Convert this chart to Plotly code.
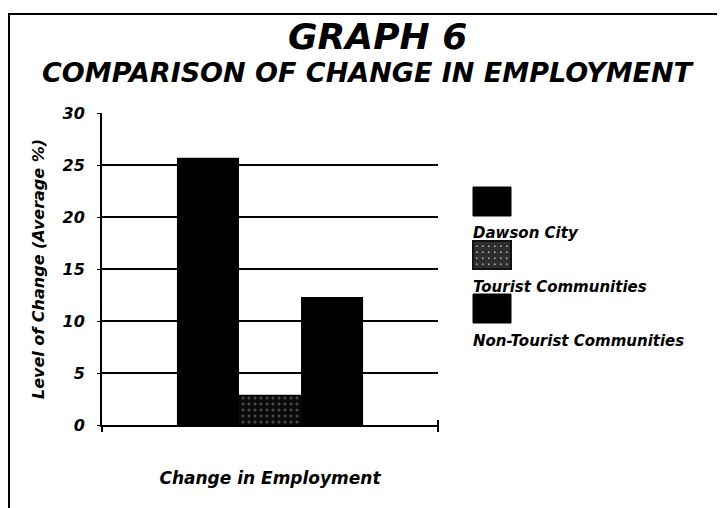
import plotly.graph_objects as go

# ---- data ----
category = ["Change in Employment"]
series_names = ["Dawson City", "Tourist Communities", "Non-Tourist Communities"]
series_values = [25.7, 2.9, 12.3]
y_ticks = [0, 5, 10, 15, 20, 25, 30]
title_main = "GRAPH 6"
title_sub = "COMPARISON OF CHANGE IN EMPLOYMENT"
y_title = "Level of Change (Average %)"

FONT = "DejaVu Sans"
OFF = 8  # page body margin
W, H = 725, 508
L, R, T, B = 102 - OFF, 438 - OFF, 113 - OFF, 425 - OFF  # plot area in figure pixels


def px(x):
    return (x - OFF - L) / (R - L)


def py(y):
    return (B - (y - OFF)) / (B - T)


fig = go.Figure()

styles = [
    dict(color="#000000"),
    dict(color="#0a0a0a", pattern=dict(shape=".", fgcolor="#8a8a8a", bgcolor="#0a0a0a",
                                       size=6, solidity=0.2)),
    dict(color="#000000"),
]
for name, val, st in zip(series_names, series_values, styles):
    fig.add_trace(go.Bar(x=category, y=[val], name=name, marker=dict(line=dict(width=0), **st),
                         showlegend=False))

shapes = []
# gridlines (no line at the top value)
for v in y_ticks[1:-1]:
    shapes.append(dict(type="line", xref="x domain", yref="y", x0=0, x1=1, y0=v, y1=v,
                       line=dict(color="black", width=2), layer="below"))
# right-end tick on category axis
shapes.append(dict(type="line", xref="paper", yref="paper", x0=1, x1=1, y0=py(425 + 5), y1=py(425 - 5),
                   line=dict(color="black", width=2)))
# outer frame
shapes.append(dict(type="rect", xref="paper", yref="paper", x0=px(9), x1=px(760), y0=py(560), y1=py(14),
                   line=dict(color="black", width=2), fillcolor="rgba(0,0,0,0)"))

annotations = [
    dict(text=f"<b><i>{title_main}</i></b>", xref="paper", yref="paper", x=px(377), y=py(36),
         showarrow=False, font=dict(family=FONT, size=36, color="black"), xanchor="center", yanchor="middle"),
    dict(text=f"<b><i>{title_sub}</i></b>", xref="paper", yref="paper", x=px(368), y=py(72),
         showarrow=False, font=dict(family=FONT, size=27, color="black"), xanchor="center", yanchor="middle"),
]

# custom legend: swatch above label
sw_tops = [187, 241, 294]
lbl_y = [233, 287, 341]
for i, name in enumerate(series_names):
    if i == 1:
        shapes.append(dict(type="rect", xref="paper", yref="paper", x0=px(473), x1=px(511),
                           y0=py(sw_tops[i] + 28), y1=py(sw_tops[i]), fillcolor="#2e2e2e",
                           line=dict(color="#111", width=2)))
        for k in range(6):
            for j in range(4):
                shapes.append(dict(type="rect", xref="paper", yref="paper",
                                   x0=px(476 + k * 6), x1=px(477.5 + k * 6),
                                   y0=py(sw_tops[i] + 6 + j * 6), y1=py(sw_tops[i] + 4.5 + j * 6),
                                   fillcolor="#bbbbbb", line=dict(width=0)))
    else:
        shapes.append(dict(type="rect", xref="paper", yref="paper", x0=px(473), x1=px(511),
                           y0=py(sw_tops[i] + 29), y1=py(sw_tops[i]), fillcolor="black",
                           line=dict(color="black", width=1)))
    annotations.append(dict(text=f"<b><i>{name}</i></b>", xref="paper", yref="paper",
                            x=px(471), y=py(lbl_y[i]), showarrow=False, xanchor="left", yanchor="middle",
                            font=dict(family=FONT, size=15, color="black")))

fig.update_layout(
    width=W, height=H,
    margin=dict(l=L, r=W - R, t=T, b=H - B),
    paper_bgcolor="white", plot_bgcolor="white",
    barmode="group", bargap=0.446, bargroupgap=0,
    shapes=shapes, annotations=annotations,
    font=dict(family=FONT, color="black"),
)
fig.update_xaxes(
    showticklabels=False, showgrid=False, showline=True, linecolor="black", linewidth=2,
    ticks="outside", tickson="boundaries", ticklen=5, tickcolor="black", tickwidth=2,
    title=dict(text=f"<b><i>{category[0]}</i></b>", font=dict(family=FONT, size=17, color="black"),
               standoff=46),
)
fig.update_yaxes(
    range=[0, 30], tickvals=y_ticks, showgrid=False, zeroline=False,
    showline=True, linecolor="black", linewidth=2, mirror=False,
    ticks="outside", ticklen=3, tickcolor="black", tickwidth=1, ticklabelstandoff=9,
    tickfont=dict(family=FONT, size=16, color="black", weight="bold", style="italic"),
    title=dict(text=f"<b><i>{y_title}</i></b>", font=dict(family=FONT, size=16, color="black"),
               standoff=14),
)

fig.write_html("out.html")
